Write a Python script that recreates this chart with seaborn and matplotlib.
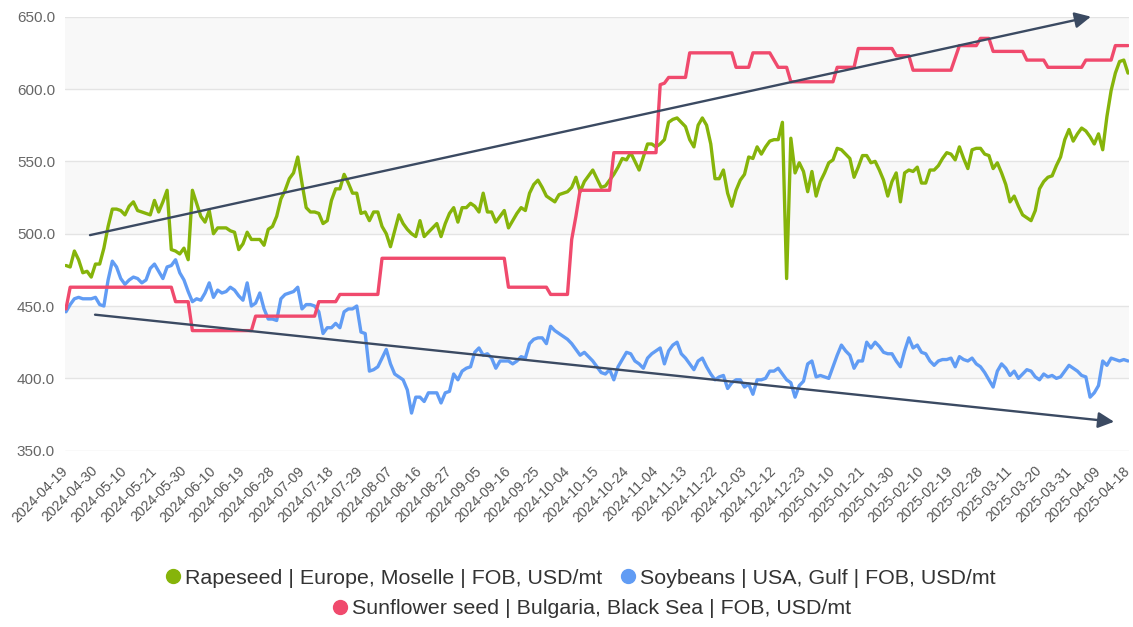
# %%
# import necessary libraries
import numpy as np
import pandas as pd
import seaborn as sns
import matplotlib.pyplot as plt
from matplotlib.lines import Line2D

# %%
# data: one value per trading day (day index 0..252)
tick_labels = ["2024-04-19", "2024-04-30", "2024-05-10", "2024-05-21", "2024-05-30",
               "2024-06-10", "2024-06-19", "2024-06-28", "2024-07-09", "2024-07-18",
               "2024-07-29", "2024-08-07", "2024-08-16", "2024-08-27", "2024-09-05",
               "2024-09-16", "2024-09-25", "2024-10-04", "2024-10-15", "2024-10-24",
               "2024-11-04", "2024-11-13", "2024-11-22", "2024-12-03", "2024-12-12",
               "2024-12-23", "2025-01-10", "2025-01-21", "2025-01-30", "2025-02-10",
               "2025-02-19", "2025-02-28", "2025-03-11", "2025-03-20", "2025-03-31",
               "2025-04-09", "2025-04-18"]

rapeseed = [478, 477, 488, 482, 473, 474, 470, 479, 479, 490,
            505, 517, 517, 516, 513, 519, 522, 516, 515, 514,
            513, 523, 515, 522, 530, 489, 488, 486, 490, 482,
            530, 521, 512, 508, 516, 500, 504, 504, 504, 502,
            501, 489, 493, 501, 496, 496, 496, 492, 503, 505,
            512, 524, 530, 538, 542, 553, 535, 518, 515, 515,
            514, 507, 509, 523, 531, 531, 541, 535, 528, 528,
            514, 515, 509, 515, 515, 505, 500, 491, 502, 513,
            507, 503, 500, 498, 509, 498, 501, 504, 507, 498,
            507, 514, 518, 508, 518, 518, 521, 519, 515, 528,
            515, 515, 508, 512, 516, 504, 509, 514, 518, 516,
            528, 534, 537, 532, 526, 524, 522, 527, 528, 529,
            532, 539, 529, 536, 540, 544, 538, 532, 533, 537,
            541, 546, 552, 551, 556, 550, 544, 553, 562, 562,
            560, 562, 565, 577, 579, 580, 577, 574, 565, 560,
            575, 580, 575, 562, 538, 538, 544, 528, 519, 530,
            537, 541, 553, 552, 560, 555, 560, 564, 565, 565,
            577, 469, 566, 542, 549, 543, 529, 543, 526, 536,
            542, 549, 551, 559, 558, 555, 552, 539, 546, 554,
            554, 549, 550, 544, 537, 526, 536, 542, 522, 542,
            544, 543, 546, 535, 535, 544, 544, 547, 552, 556,
            555, 551, 560, 552, 545, 558, 559, 559, 555, 554,
            545, 549, 542, 534, 522, 526, 519, 513, 511, 509,
            516, 531, 536, 539, 540, 547, 553, 565, 572, 564,
            569, 573, 571, 567, 562, 569, 558, 581, 599, 611,
            619, 620, 611]

soybeans = [446, 451, 455, 456, 455, 455, 455, 456, 451, 450,
            468, 481, 477, 469, 465, 468, 470, 469, 466, 468,
            476, 479, 474, 469, 477, 478, 482, 473, 468, 460,
            453, 455, 454, 459, 466, 456, 461, 459, 460, 463,
            461, 457, 454, 466, 450, 452, 459, 448, 441, 441,
            440, 455, 458, 459, 460, 463, 448, 451, 451, 450,
            446, 431, 435, 435, 438, 435, 446, 448, 448, 450,
            432, 431, 405, 406, 408, 414, 420, 410, 403, 401,
            399, 392, 376, 387, 387, 384, 390, 390, 390, 383,
            390, 391, 403, 399, 405, 407, 408, 418, 421, 416,
            417, 414, 407, 412, 412, 412, 410, 412, 415, 414,
            424, 427, 428, 428, 424, 436, 433, 431, 429, 427,
            424, 420, 416, 418, 415, 412, 408, 404, 403, 406,
            399, 408, 413, 418, 417, 412, 410, 407, 414, 417,
            419, 421, 410, 419, 423, 425, 417, 414, 410, 406,
            412, 414, 408, 403, 399, 401, 402, 393, 397, 399,
            399, 394, 396, 389, 399, 399, 400, 405, 405, 407,
            403, 399, 397, 387, 395, 398, 410, 412, 401, 402,
            401, 400, 408, 416, 423, 419, 416, 407, 412, 412,
            425, 421, 425, 422, 418, 417, 417, 412, 408, 419,
            428, 421, 423, 418, 417, 412, 409, 412, 413, 413,
            414, 408, 415, 413, 412, 414, 410, 408, 404, 399,
            394, 405, 410, 407, 402, 405, 400, 403, 406, 405,
            401, 399, 403, 401, 402, 400, 401, 405, 409, 407,
            405, 402, 401, 387, 390, 395, 412, 409, 414, 413,
            412, 413, 412]

# sunflower moves in steps: day index where the price changes and the price
sun_days = [0, 1, 25, 26, 29, 30, 44, 45, 59, 60, 64, 65, 74, 75, 104, 105,
            114, 115, 119, 120, 121, 122, 129, 130, 140, 141, 142, 143, 147, 148,
            158, 159, 162, 163, 167, 169, 171, 172, 182, 183, 187, 188, 196, 197,
            200, 201, 210, 212, 216, 217, 219, 220, 227, 228, 232, 233, 241, 242,
            248, 249, 252]
sun_vals = [448, 463, 463, 453, 453, 433, 433, 443, 443, 453, 453, 458, 458, 483, 483, 463,
            463, 458, 458, 496, 512, 530, 530, 556, 556, 603, 604, 608, 608, 625,
            625, 615, 615, 625, 625, 615, 615, 605, 605, 615, 615, 628, 628, 623,
            623, 613, 613, 630, 630, 635, 635, 626, 626, 620, 620, 615, 615, 620,
            620, 630, 630]

# hand drawn trend arrows (day index, price)
arrow_up = [(5.7, 499), (243.2, 650)]
arrow_down = [(6.9, 444), (248.7, 370)]

names = ["Rapeseed | Europe, Moselle | FOB, USD/mt",
         "Soybeans | USA, Gulf | FOB, USD/mt",
         "Sunflower seed | Bulgaria, Black Sea | FOB, USD/mt"]
colors = ["#86b40a", "#619cf4", "#f04a6d"]

# %%
# long form table for seaborn
days = np.arange(len(rapeseed))
df = pd.concat([
    pd.DataFrame({"day": days, "price": rapeseed, "series": names[0]}),
    pd.DataFrame({"day": days, "price": soybeans, "series": names[1]}),
    pd.DataFrame({"day": sun_days, "price": sun_vals, "series": names[2]}),
])

# %%
sns.set_style("white")
plt.rcParams["font.family"] = ["Liberation Sans", "DejaVu Sans"]

fig = plt.figure(figsize=(11.33, 6.27), dpi=100)
ax = fig.add_axes([0.0571, 0.2812, 0.9396, 0.6922])

# alternating bands + grid
for lo in [400, 500, 600]:
    ax.axhspan(lo, lo + 50, color="#f8f8f8", zorder=0, lw=0)
for y in range(350, 651, 50):
    ax.axhline(y, color="#e4e4e4", lw=1, zorder=1)

sns.lineplot(data=df, x="day", y="price", hue="series", palette=dict(zip(names, colors)),
             linewidth=2.4, legend=False, errorbar=None, ax=ax, zorder=3)

for (x0, y0), (x1, y1) in [arrow_up, arrow_down]:
    ax.annotate("", xy=(x1, y1), xytext=(x0, y0),
                arrowprops=dict(arrowstyle="-|>", color="#3b4a62", lw=1.7,
                                mutation_scale=24, shrinkA=0, shrinkB=0),
                zorder=5, annotation_clip=False)

ax.set_xlim(-0.3, 252.3)
ax.set_ylim(350, 650)
ax.set_xticks(np.arange(0, 253, 7))
ax.set_xticklabels(tick_labels, rotation=45, ha="right", va="center",
                   rotation_mode="anchor", fontsize=10.2, color="#555555")
ax.set_xticks(days, minor=True)
ax.set_yticks(range(350, 651, 50))
ax.set_yticklabels([f"{v:.1f}" for v in range(350, 651, 50)], fontsize=11, color="#666666")
ax.tick_params(axis="x", which="both", length=4, color="#cccccc", pad=9)
ax.tick_params(axis="y", length=0, pad=7)
ax.set_xlabel("")
ax.set_ylabel("")
for s in ax.spines.values():
    s.set_visible(False)

# legend: two entries on first row, one centred below
def handle(c):
    return Line2D([], [], marker="o", ls="none", color=c, markersize=10)

fig.legend([handle(colors[0]), handle(colors[1])], names[:2], loc="center",
           bbox_to_anchor=(0.512, 0.078), ncol=2, frameon=False, fontsize=15.4,
           handlelength=0.8, handletextpad=0.15, columnspacing=0.8, labelcolor="#333333")
fig.legend([handle(colors[2])], names[2:], loc="center",
           bbox_to_anchor=(0.522, 0.029), frameon=False, fontsize=15.4,
           handlelength=0.8, handletextpad=0.15, labelcolor="#333333")

fig.savefig("out.png", dpi=100)
